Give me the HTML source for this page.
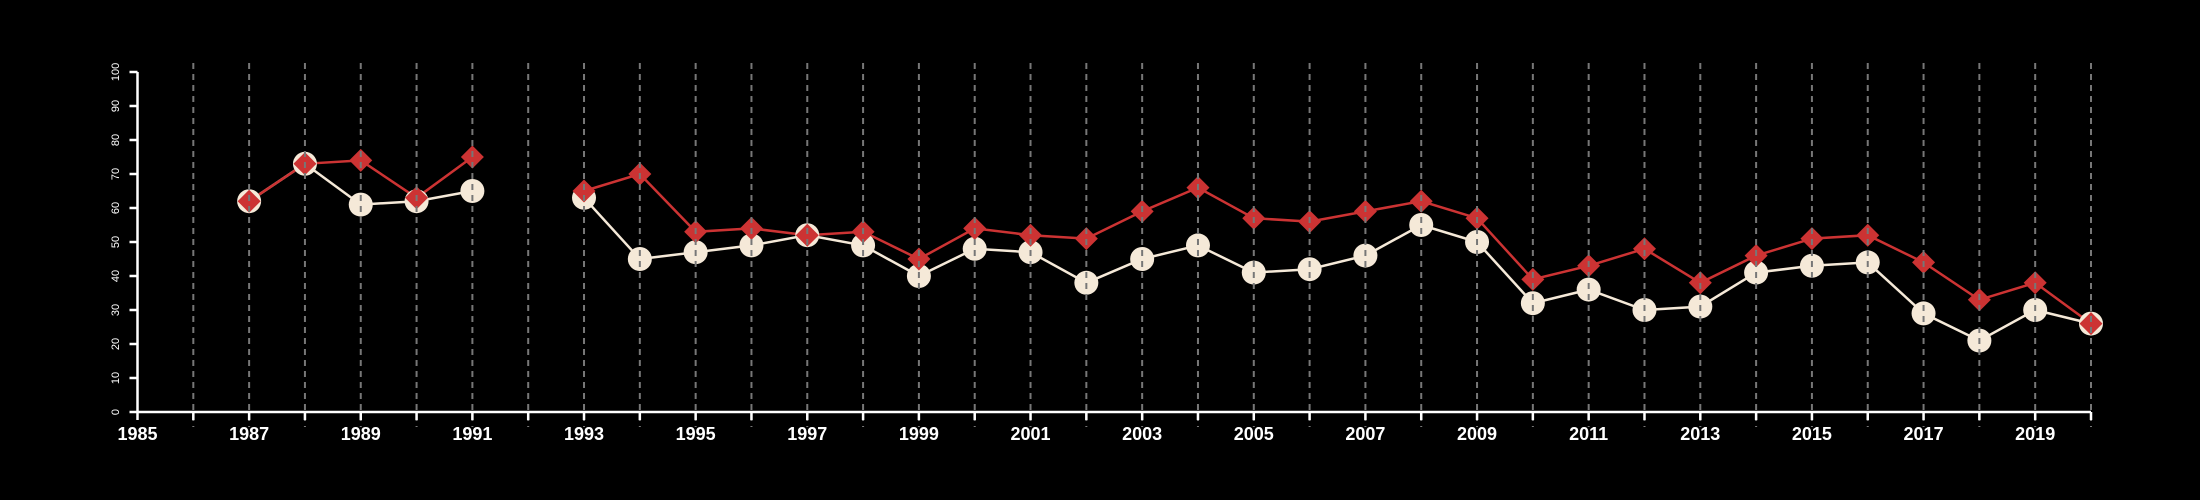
<!DOCTYPE html>
<html><head><meta charset="utf-8"><style>
html,body{margin:0;padding:0;background:#000;}
svg{display:block;font-family:"Liberation Sans",Arial,sans-serif;}
</style></head><body>
<svg id="chart" width="2200" height="500" viewBox="0 0 2200 500" xmlns="http://www.w3.org/2000/svg">
<rect width="2200" height="500" fill="#000"/>
<g id="lines"></g><g id="points"></g><g id="grid"></g><g id="axes"></g>
</svg>
<script>
const years = [1987,1988,1989,1990,1991,1992,1993,1994,1995,1996,1997,1998,1999,2000,2001,2002,2003,2004,2005,2006,2007,2008,2009,2010,2011,2012,2013,2014,2015,2016,2017,2018,2019,2020];
const seriesCircle = [62,73,61,62,65,null,63,45,47,49,52,49,40,48,47,38,45,49,41,42,46,55,50,32,36,30,31,41,43,44,29,21,30,26];
const seriesDiamond = [62,73,74,63,75,null,65,70,53,54,52,53,45,54,52,51,59,66,57,56,59,62,57,39,43,48,38,46,51,52,44,33,38,26];
const yTicks = [0,10,20,30,40,50,60,70,80,90,100];
const xTickYears = [1985,1986,1987,1988,1989,1990,1991,1992,1993,1994,1995,1996,1997,1998,1999,2000,2001,2002,2003,2004,2005,2006,2007,2008,2009,2010,2011,2012,2013,2014,2015,2016,2017,2018,2019,2020];

const NS="http://www.w3.org/2000/svg";
const x0=137.5,x1=2091,y0=412,y1=72;
const xs=v=>x0+(v-1985)*(x1-x0)/35;
const ys=v=>y0-(v)*(y0-y1)/100;
function mk(tag,attrs,parent){const e=document.createElementNS(NS,tag);for(const k in attrs)e.setAttribute(k,attrs[k]);parent.appendChild(e);return e;}
const gl=document.getElementById('lines'),gp=document.getElementById('points'),gg=document.getElementById('grid'),ga=document.getElementById('axes');

function segs(vals){const out=[];let cur=[];vals.forEach((v,i)=>{if(v==null){if(cur.length)out.push(cur);cur=[];}else cur.push([xs(years[i]),ys(v)]);});if(cur.length)out.push(cur);return out;}
segs(seriesCircle).forEach(s=>{
  const p=mk('polyline',{points:s.map(q=>q.join(',')).join(' '),fill:'none',stroke:'#f5e9d8','stroke-width':2.5},gl);
  
  
});
segs(seriesDiamond).forEach(s=>{
  const p=mk('polyline',{points:s.map(q=>q.join(',')).join(' '),fill:'none',stroke:'#cc3333','stroke-width':2.5},gl);
  
  
});
seriesCircle.forEach((v,i)=>{if(v==null)return;
  const c=mk('circle',{cx:xs(years[i]),cy:ys(v),r:12,fill:'#f5e9d8'},gp);
  
  
});
seriesDiamond.forEach((v,i)=>{if(v==null)return;
  const x=xs(years[i]),y=ys(v),d=11.5;
  const c=mk('polygon',{points:`${x},${y-d} ${x+d},${y} ${x},${y+d} ${x-d},${y}`,fill:'#cc3333'},gp);
  
  
});
xTickYears.forEach(yr=>{
  if(yr===1985)return;
  const l=mk('line',{x1:xs(yr),x2:xs(yr),y1:63,y2:427,stroke:'#777','stroke-width':2,'stroke-dasharray':'6,5'},gg);
  
  
});
const xa=mk('line',{x1:x0,x2:x1,y1:y0,y2:y0,stroke:'#fff','stroke-width':2.5},ga);


const ya=mk('line',{x1:x0,x2:x0,y1:y0,y2:y1,stroke:'#fff','stroke-width':2.5},ga);


xTickYears.forEach(yr=>{
  const t=mk('line',{x1:xs(yr),x2:xs(yr),y1:y0,y2:y0+8,stroke:'#fff','stroke-width':2.5},ga);
  
  
  if((yr-1985)%2===0){
    const tx=mk('text',{x:xs(yr),y:440,'text-anchor':'middle',fill:'#fff','font-size':18,'font-weight':'bold'},ga);
    tx.textContent=yr;
    
    
  }
});
yTicks.forEach(v=>{
  const t=mk('line',{x1:x0-8,x2:x0,y1:ys(v),y2:ys(v),stroke:'#fff','stroke-width':2.5},ga);
  
  
  const tx=mk('text',{x:0,y:0,'text-anchor':'middle',fill:'#fff','font-size':11,transform:`translate(119,${ys(v)}) rotate(-90)`},ga);
  tx.textContent=v;
  
  
});
</script>
</body></html>
